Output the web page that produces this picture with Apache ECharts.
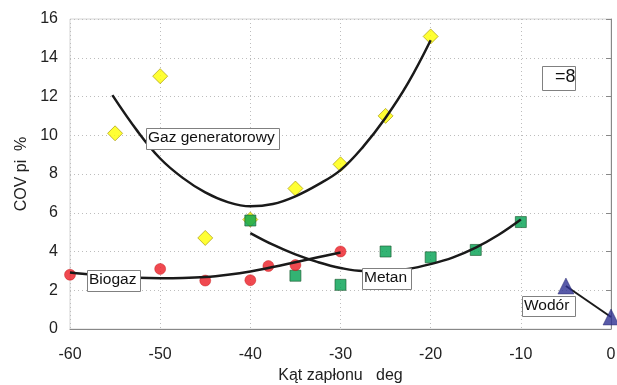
<!DOCTYPE html>
<html><head><meta charset="utf-8">
<script src="https://cdn.jsdelivr.net/npm/echarts@6/dist/echarts.min.js"></script>
<style>html,body{margin:0;padding:0;background:#fff}#c{width:617px;height:385px}</style>
</head><body><div id="c"></div>
<script>
// Measured points
const gazX = [-55, -50, -45, -40, -35, -30, -25, -20];
const gazY = [10.1, 13.05, 4.7, 5.65, 7.25, 8.5, 11.0, 15.1];
const metanX = [-40, -35, -30, -25, -20, -15, -10];
const metanY = [5.6, 2.75, 2.28, 4.0, 3.7, 4.08, 5.52];
const biogazX = [-60, -50, -45, -40, -38, -35, -30];
const biogazY = [2.8, 3.1, 2.5, 2.52, 3.25, 3.3, 4.0];
const wodorX = [-5, 0];
const wodorY = [2.22, 0.62];
// Trend curves
const gazTrendX = [-55.3, -52.5, -50, -47.5, -45, -42.5, -40, -37.5, -35, -32.5, -30, -27.5, -25, -22.5, -20];
const gazTrendY = [12.07, 10.2, 8.8, 7.8, 7.05, 6.55, 6.33, 6.45, 6.85, 7.45, 8.2, 9.4, 10.9, 12.7, 14.9];
const metanTrendX = [-40, -37.5, -35, -32.5, -30, -27.5, -25, -22.5, -20, -17.5, -15, -12.5, -10];
const metanTrendY = [4.95, 4.35, 3.85, 3.45, 3.15, 3.0, 3.0, 3.1, 3.35, 3.7, 4.2, 4.85, 5.65];
const biogazTrendX = [-60, -57.5, -55, -52.5, -50, -47.5, -45, -42.5, -40, -37.5, -35, -32.5, -30];
const biogazTrendY = [2.92, 2.8, 2.7, 2.64, 2.62, 2.63, 2.68, 2.8, 2.97, 3.2, 3.45, 3.7, 3.95];
const xTicks = [-60, -50, -40, -30, -20, -10, 0];
const yTicks = [0, 2, 4, 6, 8, 10, 12, 14, 16];
const labels = ['Gaz generatorowy', 'Biogaz', 'Metan', 'Wodór', '=8'];
const xName = 'Kąt zapłonu   deg';
const yName = 'COV pi  %';

const zip = (a, b) => a.map((v, i) => [v, b[i]]);
const FONT = '"Liberation Sans", Arial, sans-serif';

const chart = echarts.init(document.getElementById('c'), null, { renderer: 'canvas' });
const lineStyle = { color: '#1a1a1a', width: 2.5 };
const boxStyle = { fill: '#fff', stroke: '#808080', lineWidth: 1 };
chart.setOption({
  animation: false,
  backgroundColor: '#fff',
  grid: { left: 70, right: 6, top: 19, bottom: 56, show: true, borderColor: '#d4d4d4', borderWidth: 1,
          containLabel: false, outerBoundsMode: 'none' },
  xAxis: {
    type: 'value', min: xTicks[0], max: xTicks[xTicks.length - 1], interval: 10,
    name: xName, nameLocation: 'middle', nameGap: 30,
    nameTextStyle: { fontSize: 16, color: '#222', fontFamily: FONT },
    axisLine: { show: true, lineStyle: { color: '#888', width: 1 } },
    axisTick: { show: false },
    axisLabel: { fontSize: 16, color: '#222', fontFamily: FONT, margin: 18 },
    splitLine: { show: true, lineStyle: { color: '#bdbdbd', type: [1, 3], width: 1 } }
  },
  yAxis: {
    type: 'value', min: yTicks[0], max: yTicks[yTicks.length - 1], interval: 2,
    name: yName, nameLocation: 'middle', nameGap: 40,
    nameTextStyle: { fontSize: 16, color: '#222', fontFamily: FONT },
    axisLine: { show: true, lineStyle: { color: '#888', width: 1 } },
    axisTick: { show: true, length: 5, lineStyle: { color: '#888' } },
    axisLabel: { fontSize: 16, color: '#222', fontFamily: FONT, margin: 12 },
    splitLine: { show: true, lineStyle: { color: '#bdbdbd', type: [1, 3], width: 1 } }
  },
  series: [
    { type: 'scatter', name: 'gaz', data: zip(gazX, gazY), symbol: 'diamond', symbolSize: 15, z: 2,
      itemStyle: { color: '#ffff00', borderColor: '#a09000', borderWidth: 0.8 } },
    { type: 'scatter', name: 'metan', data: zip(metanX, metanY), symbol: 'rect', symbolSize: 11, z: 3,
      itemStyle: { color: '#00a050', borderColor: '#1a5a30', borderWidth: 0.8 } },
    { type: 'scatter', name: 'biogaz', data: zip(biogazX, biogazY), symbol: 'circle', symbolSize: 11, z: 3,
      itemStyle: { color: '#ec1c24', borderColor: '#c01010', borderWidth: 0.5 } },
    { type: 'scatter', name: 'wodor', data: zip(wodorX, wodorY), symbol: 'triangle', symbolSize: 16, z: 3,
      itemStyle: { color: '#2e3192', borderColor: '#1a1a60', borderWidth: 0.5 } },
    { type: 'line', data: zip(gazTrendX, gazTrendY), smooth: 0.4, showSymbol: false, symbol: 'none', z: 4, lineStyle: lineStyle },
    { type: 'line', data: zip(metanTrendX, metanTrendY), smooth: 0.4, showSymbol: false, symbol: 'none', z: 4, lineStyle: lineStyle },
    { type: 'line', data: zip(biogazTrendX, biogazTrendY), smooth: 0.4, showSymbol: false, symbol: 'none', z: 4, lineStyle: lineStyle },
    { type: 'line', data: zip(wodorX, wodorY), showSymbol: false, symbol: 'none', z: 2, lineStyle: { color: '#1a1a1a', width: 2 } }
  ],
  graphic: [
    { type: 'rect', left: 146, top: 128, z: 100, shape: { width: 133, height: 21 }, style: boxStyle },
    { type: 'text', left: 148, top: 130, z: 101, style: { text: labels[0], font: '15.5px ' + FONT, fill: '#111' } },
    { type: 'rect', left: 87, top: 270, z: 100, shape: { width: 53, height: 21 }, style: boxStyle },
    { type: 'text', left: 89, top: 272, z: 101, style: { text: labels[1], font: '15.5px ' + FONT, fill: '#111' } },
    { type: 'rect', left: 362, top: 268, z: 100, shape: { width: 49, height: 21 }, style: boxStyle },
    { type: 'text', left: 364, top: 270, z: 101, style: { text: labels[2], font: '15.5px ' + FONT, fill: '#111' } },
    { type: 'rect', left: 522, top: 296, z: 100, shape: { width: 53, height: 20 }, style: boxStyle },
    { type: 'text', left: 524, top: 298, z: 101, style: { text: labels[3], font: '15.5px ' + FONT, fill: '#111' } },
    { type: 'rect', left: 542, top: 66, z: 100, shape: { width: 33, height: 24 }, style: boxStyle },
    { type: 'text', left: 555, top: 68, z: 101, style: { text: labels[4], font: '18px ' + FONT, fill: '#111' } }
  ]
});
</script></body></html>
